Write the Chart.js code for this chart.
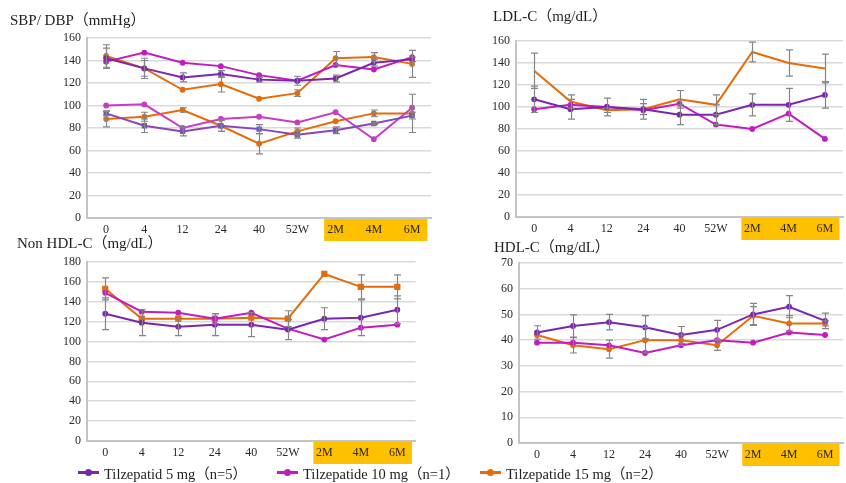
<!DOCTYPE html>
<html>
<head>
<meta charset="utf-8">
<script src="https://cdn.jsdelivr.net/npm/chart.js@4.4.1/dist/chart.umd.min.js"></script>
<style>
  html, body { margin: 0; padding: 0; background: #fff; }
  body { width: 846px; height: 483px; position: relative; overflow: hidden;
         font-family: 'Liberation Serif', 'Noto Sans CJK SC', serif; }
  canvas { position: absolute; }
  .key { position: absolute; top: 463px; height: 18px; display: flex; align-items: center;
         font-size: 14.5px; color: #222; white-space: pre; }
  .key i { display: inline-block; width: 21px; height: 3px; position: relative; margin-right: 5px; }
  .key i b { position: absolute; left: 7px; top: -2px; width: 7px; height: 7px; border-radius: 50%; }
</style>
</head>
<body>
<canvas id="bp"     width="435" height="244" style="left:0;top:0"></canvas>
<canvas id="ldl"    width="411" height="244" style="left:435px;top:0"></canvas>
<canvas id="nonhdl" width="420" height="238" style="left:0;top:228px"></canvas>
<canvas id="hdl"    width="411" height="238" style="left:435px;top:228px"></canvas>

<div class="key" style="left:78px"><i id="k5"><b></b></i><span>Tilzepatid 5 mg（n=5）</span></div>
<div class="key" style="left:277px"><i id="k10"><b></b></i><span>Tilzepatide 10 mg（n=1）</span></div>
<div class="key" style="left:480px"><i id="k15"><b></b></i><span>Tilzepatide 15 mg（n=2）</span></div>

<script>
// Visit time points: weeks on treatment, then months after stopping
const weeks = ['0', '4', '12', '24', '40', '52W', '2M', '4M', '6M'];

// Systolic / diastolic blood pressure (mmHg), mean and SD
const sbp5    = [142, 133, 125, 128, 123, 122, 124, 138, 141];
const sbp5Sd  = [9, 9, 4, 3, 2, 4, 3, 3, 2];
const sbp10   = [139, 147, 138, 135, 127, 122, 136, 132, 143];
const sbp15   = [144, 133, 114, 119, 106, 111, 142, 143, 137];
const sbp15Sd = [10, 7, 0, 7, 0, 3, 6, 4, 12];
const dbp5    = [93, 82, 77, 82, 79, 74, 78, 84, 91];
const dbp5Sd  = [2, 6, 4, 5, 4, 3, 3, 1, 3];
const dbp10   = [100, 101, 80, 88, 90, 85, 94, 70, 98];
const dbp15   = [88, 90, 96, 82, 66, 77, 86, 93, 93];
const dbp15Sd = [7, 4, 2, 5, 9, 3, 0, 3, 17];

// LDL-C (mg/dL)
const ldl5    = [107, 98, 100, 98, 93, 93, 102, 102, 111];
const ldl5Sd  = [12, 9, 8, 9, 9, 9, 10, 15, 12];
const ldl10   = [98, 102, 100, 97, 103, 84, 80, 94, 71];
const ldl15   = [133, 105, 97, 98, 107, 102, 150, 140, 135];
const ldl15Sd = [16, 6, 2, 5, 8, 9, 9, 12, 13];

// Non HDL-C (mg/dL)
const nonHdl5    = [128, 119, 115, 117, 117, 112, 123, 124, 132];
const nonHdl5Sd  = [16, 13, 9, 11, 12, 10, 11, 18, 14];
const nonHdl10   = [149, 130, 129, 123, 129, 113, 102, 114, 117];
const nonHdl15   = [153, 123, 123, 123, 124, 123, 168, 155, 155];
const nonHdl15Sd = [11, 0, 0, 5, 0, 8, 0, 12, 12];

// HDL-C (mg/dL)
const hdl5    = [43, 45.5, 47, 45, 42, 44, 50, 53, 47.5];
const hdl5Sd  = [2.6, 4.3, 3, 4.5, 3.3, 3.7, 4.3, 4.3, 3];
const hdl10   = [39, 39, 38, 35, 38, 40, 39, 43, 42];
const hdl15   = [42, 38, 36.5, 40, 40, 38, 49.5, 46.5, 46.5];
const hdl15Sd = [0, 3, 3.5, 5, 2, 2, 3.5, 3, 1];

const SERIF = "'Liberation Serif', 'Noto Sans CJK SC', serif";
const C5 = '#7a27ad', C10 = '#c21cbf', C15 = '#e46c0a';

// Gold band behind the post-treatment month labels
const monthBand = {
  id: 'monthBand',
  beforeDraw(chart) {
    const x = chart.scales.x, ctx = chart.ctx, area = chart.chartArea;
    const first = weeks.indexOf('2M'), last = weeks.length - 1;
    const step = x.getPixelForValue(1) - x.getPixelForValue(0);
    const x0 = x.getPixelForValue(first) - 0.3 * step;
    const x1 = Math.min(x.getPixelForValue(last) + 0.4 * step, chart.width);
    ctx.save();
    ctx.fillStyle = '#ffc000';
    ctx.fillRect(x0, area.bottom + 1, x1 - x0, 22);
    ctx.restore();
  }
};

// Mean ± SD whiskers for datasets that carry an `sd` array
const errorBars = {
  id: 'errorBars',
  afterDatasetsDraw(chart) {
    const ctx = chart.ctx, y = chart.scales.y;
    ctx.save();
    ctx.strokeStyle = '#858585';
    ctx.lineWidth = 1.2;
    chart.data.datasets.forEach((ds, i) => {
      if (!ds.sd) return;
      const pts = chart.getDatasetMeta(i).data;
      ds.sd.forEach((s, j) => {
        if (!s) return;
        const px = Math.round(pts[j].x) + 0.5;
        const top = y.getPixelForValue(ds.data[j] + s);
        const bot = y.getPixelForValue(ds.data[j] - s);
        ctx.beginPath();
        ctx.moveTo(px, top); ctx.lineTo(px, bot);
        ctx.moveTo(px - 3.5, top); ctx.lineTo(px + 3.5, top);
        ctx.moveTo(px - 3.5, bot); ctx.lineTo(px + 3.5, bot);
        ctx.stroke();
      });
    });
    ctx.restore();
  }
};

function series(label, data, color, extra) {
  return Object.assign({
    label, data,
    borderColor: color, backgroundColor: color,
    pointBackgroundColor: color, pointBorderColor: color, pointBorderWidth: 0,
    borderWidth: 2, pointRadius: 2.9, pointHoverRadius: 2.9, tension: 0
  }, extra || {});
}

function panel(id, cfg) {
  return new Chart(document.getElementById(id), {
    type: 'line',
    data: { labels: weeks, datasets: cfg.datasets },
    options: {
      responsive: false,
      animation: false,
      layout: { padding: cfg.padding },
      plugins: {
        legend: { display: false },
        tooltip: { enabled: false },
        title: {
          display: true, text: cfg.title, align: 'start', color: '#1e1e1e',
          font: { family: SERIF, size: 15, weight: 'normal' },
          padding: cfg.titlePad
        }
      },
      scales: {
        x: {
          offset: true,
          grid: { display: false, drawTicks: false },
          border: { color: '#c4c4c4', width: 2 },
          ticks: { color: '#2a2a2a', font: { family: SERIF, size: 12 }, padding: 5,
                   autoSkip: false, maxRotation: 0 },
          afterFit(s) { s.height = cfg.xHeight; }
        },
        y: {
          min: 0, max: cfg.max,
          ticks: { stepSize: cfg.step, color: '#2a2a2a', font: { family: SERIF, size: 12 }, padding: 6 },
          grid: { color: '#dadada', lineWidth: 1.5, drawTicks: false },
          border: { color: '#c4c4c4', width: 2 },
          afterFit(s) { s.width = cfg.yWidth; }
        }
      }
    },
    plugins: [monthBand, errorBars]
  });
}

panel('bp', {
  title: 'SBP/ DBP（mmHg）', max: 160, step: 20,
  padding: { left: 10, right: 0, top: 0, bottom: 0 },
  titlePad: { top: 12, bottom: 8 }, yWidth: 77, xHeight: 26,
  datasets: [
    series('SBP 5 mg', sbp5, C5, { sd: sbp5Sd }),
    series('SBP 10 mg', sbp10, C10),
    series('SBP 15 mg', sbp15, C15, { sd: sbp15Sd }),
    series('DBP 5 mg', dbp5, '#8a45b8', { sd: dbp5Sd, pointStyle: 'rect', pointRadius: 3.8,
      pointBackgroundColor: '#6a5bb4', pointBorderColor: '#6a5bb4' }),
    series('DBP 10 mg', dbp10, '#c63cc4'),
    series('DBP 15 mg', dbp15, C15, { sd: dbp15Sd })
  ]
});

panel('ldl', {
  title: 'LDL-C（mg/dL）', max: 160, step: 20,
  padding: { left: 58, right: 0, top: 0, bottom: 0 },
  titlePad: { top: 8, bottom: 15 }, yWidth: 23, xHeight: 27,
  datasets: [
    series('5 mg', ldl5, C5, { sd: ldl5Sd }),
    series('10 mg', ldl10, C10),
    series('15 mg', ldl15, C15, { sd: ldl15Sd, pointRadius: 0 })
  ]
});

panel('nonhdl', {
  title: 'Non HDL-C（mg/dL）', max: 180, step: 20,
  padding: { left: 17, right: 3, top: 0, bottom: 0 },
  titlePad: { top: 7, bottom: 9 }, yWidth: 70, xHeight: 25,
  datasets: [
    series('5 mg', nonHdl5, C5, { sd: nonHdl5Sd }),
    series('10 mg', nonHdl10, C10),
    series('15 mg', nonHdl15, C15, { sd: nonHdl15Sd, pointStyle: 'rect', pointRadius: 4.4 })
  ]
});

panel('hdl', {
  title: 'HDL-C（mg/dL）', max: 70, step: 10,
  padding: { left: 59, right: 0, top: 0, bottom: 0 },
  titlePad: { top: 11, bottom: 6 }, yWidth: 25, xHeight: 23,
  datasets: [
    series('5 mg', hdl5, C5, { sd: hdl5Sd }),
    series('10 mg', hdl10, C10),
    series('15 mg', hdl15, C15, { sd: hdl15Sd })
  ]
});

// Shared key under the lower panels
[['k5', C5], ['k10', C10], ['k15', C15]].forEach(([id, col]) => {
  const el = document.getElementById(id);
  el.style.background = col;
  el.firstChild.style.background = col;
});
</script>
</body>
</html>
